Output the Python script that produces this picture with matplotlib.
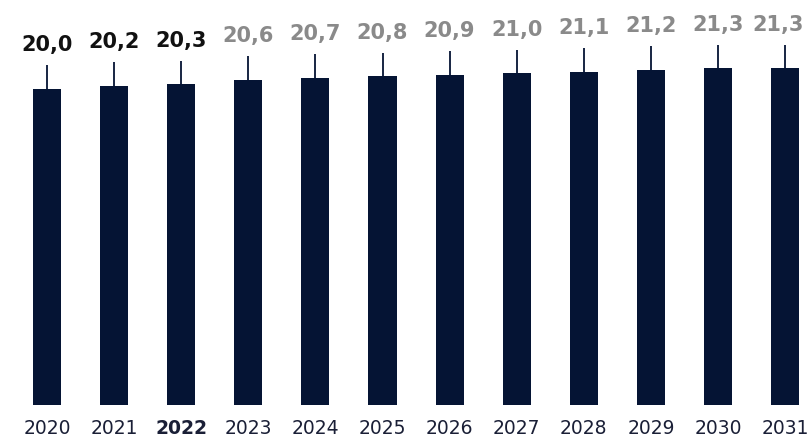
import matplotlib
matplotlib.use("Agg")
import matplotlib.pyplot as plt

years = ["2020", "2021", "2022", "2023", "2024", "2025", "2026", "2027", "2028", "2029", "2030", "2031"]
values = [20.0, 20.2, 20.3, 20.6, 20.7, 20.8, 20.9, 21.0, 21.1, 21.2, 21.3, 21.3]
labels = ["20,0", "20,2", "20,3", "20,6", "20,7", "20,8", "20,9", "21,0", "21,1", "21,2", "21,3", "21,3"]
upper_err = [1.5] * len(values)
actual = [True, True, True] + [False] * 9

plt.rcParams['font.family'] = ['DejaVu Sans']
W, H = 808, 437
fig = plt.figure(figsize=(W / 100, H / 100), dpi=100)
bottom_px = 32
ax = fig.add_axes([0, bottom_px / H, 1, (H - bottom_px) / H])

bar_color = "#051434"
x = list(range(len(years)))
ax.bar(x, values, width=0.42, color=bar_color, zorder=2)
ax.errorbar(x, values, yerr=[[0] * len(values), upper_err], fmt='none',
            ecolor=bar_color, elinewidth=1.3, capsize=0, zorder=1)

n = len(values)
for i, (xi, v, e, lab, a) in enumerate(zip(x, values, upper_err, labels, actual)):
    dx = -5 if i == n - 1 else 0
    ax.annotate(lab, (xi, v + e), xytext=(dx, 10), textcoords='offset points',
                ha='center', va='baseline', fontsize=15, fontweight='bold',
                color="#111111" if a else "#8a8a8a")

px_per_unit = 15.8
ax.set_ylim(0, (H - bottom_px) / px_per_unit)
spacing = 67.1
ax.set_xlim((0 - 47) / spacing, (W - 47) / spacing)
ax.set_xticks(x)
ax.set_xticklabels(years, fontsize=13.5, color="#1a1f36")
for t, y in zip(ax.get_xticklabels(), years):
    if y == "2022":
        t.set_fontweight('bold')
ax.tick_params(axis='x', length=0, pad=10)
ax.set_yticks([])
for s in ax.spines.values():
    s.set_visible(False)
ax.patch.set_alpha(0)

fig.savefig("out.png", dpi=100)
